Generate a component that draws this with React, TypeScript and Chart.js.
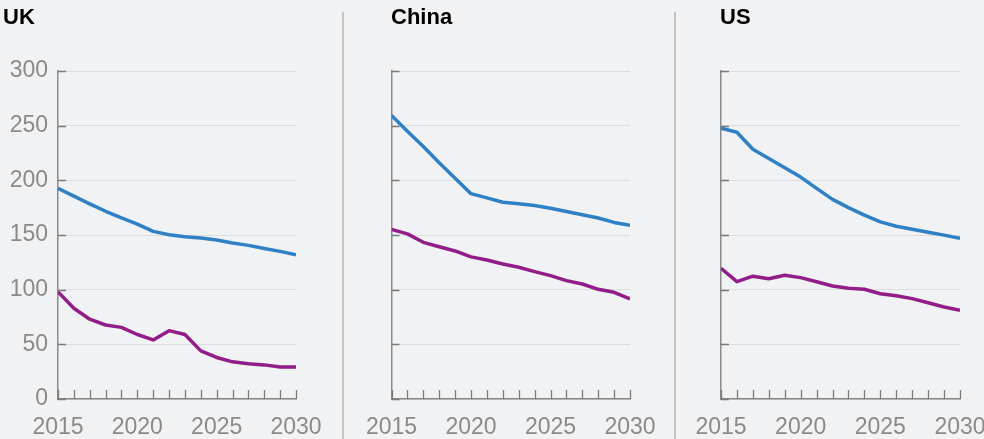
import React, { useEffect, useRef } from "react";
import { Chart, registerables } from "chart.js";

Chart.register(...registerables);

const years = [2015, 2016, 2017, 2018, 2019, 2020, 2021, 2022, 2023, 2024, 2025, 2026, 2027, 2028, 2029, 2030];
const yTickValues = [0, 50, 100, 150, 200, 250, 300];

const ukBlue = [192.6, 185.5, 178.5, 171.7, 165.6, 160, 153.3, 150.3, 148.4, 147.2, 145.4, 142.6, 140.5, 137.7, 135, 131.9];
const ukPurple = [98, 83, 73, 67.7, 65.5, 59, 54, 62.5, 59, 44, 38, 34, 32.2, 31.2, 29.2, 29.2];
const chinaBlue = [259.4, 245, 231, 216, 202, 187.8, 184, 180, 178.6, 177, 174.5, 171.5, 168.5, 165.5, 161.5, 159];
const chinaPurple = [155.2, 151, 143.3, 139.3, 135.4, 130, 127.1, 123.5, 120.5, 116.5, 112.8, 108.3, 105.2, 100.3, 97.6, 91.5];
const usBlue = [247.6, 244, 228.4, 220, 211.6, 203, 192.6, 182.6, 175, 168.2, 162, 158, 155.3, 152.6, 149.9, 146.9];
const usPurple = [119.6, 107.3, 112.3, 110, 113.2, 111, 107.3, 103.4, 101.3, 100.4, 96.3, 94.5, 91.8, 88, 84.2, 81.2];

const BG = "#f1f2f4";
const BLUE = "#2f80c5";
const PURPLE = "#921d88";
const AXIS = "#8a8a8a";
const TICK = "#7a7a7a";
const GRID = "#dcdde0";
const LABEL = "#8a8a8a";
const FONT = "'Liberation Sans', Arial, sans-serif";

type PanelSpec = {
  title: string;
  blue: number[];
  purple: number[];
  left: number;
  width: number;
  axisWidth: number;
  padRight: number;
  showY: boolean;
  titleLeft: number;
};

const panels: PanelSpec[] = [
  { title: "UK", blue: ukBlue, purple: ukPurple, left: 0, width: 345, axisWidth: 58, padRight: 49, showY: true, titleLeft: 3 },
  { title: "China", blue: chinaBlue, purple: chinaPurple, left: 330, width: 345, axisWidth: 61.5, padRight: 45, showY: false, titleLeft: 391 },
  { title: "US", blue: usBlue, purple: usPurple, left: 660, width: 345, axisWidth: 61, padRight: 45, showY: false, titleLeft: 720 },
];

const innerTicks = {
  id: "innerTicks",
  beforeDatasetsDraw(chart: any) {
    const { ctx, chartArea, scales } = chart;
    const xs = scales.x;
    const ys = scales.y;
    ctx.save();
    ctx.strokeStyle = TICK;
    ctx.lineWidth = 1.3;
    ctx.beginPath();
    for (const v of yTickValues) {
      const py = Math.round(ys.getPixelForValue(v)) + 0.5;
      ctx.moveTo(chartArea.left, py);
      ctx.lineTo(chartArea.left + 8, py);
    }
    for (const yr of years) {
      const px = Math.round(xs.getPixelForValue(yr)) + 0.5;
      ctx.moveTo(px, chartArea.bottom);
      ctx.lineTo(px, chartArea.bottom - 9);
    }
    ctx.stroke();
    ctx.restore();
  },
};

function Panel({ spec }: { spec: PanelSpec }) {
  const ref = useRef<HTMLCanvasElement | null>(null);
  useEffect(() => {
    if (!ref.current) return;
    const chart = new Chart(ref.current, {
      type: "line",
      data: {
        datasets: [
          {
            data: years.map((x, i) => ({ x, y: spec.blue[i] })),
            borderColor: BLUE,
            borderWidth: 3.5,
            pointRadius: 0,
            tension: 0,
            borderJoinStyle: "round",
          },
          {
            data: years.map((x, i) => ({ x, y: spec.purple[i] })),
            borderColor: PURPLE,
            borderWidth: 3.5,
            pointRadius: 0,
            tension: 0,
            borderJoinStyle: "round",
          },
        ],
      },
      options: {
        animation: false,
        responsive: false,
        maintainAspectRatio: false,
        layout: { padding: { top: 71, right: spec.padRight, left: 0, bottom: 0 } },
        plugins: { legend: { display: false }, tooltip: { enabled: false }, title: { display: false } },
        scales: {
          x: {
            type: "linear",
            min: 2015,
            max: 2030,
            ticks: {
              stepSize: 5,
              autoSkip: false,
              maxRotation: 0,
              color: LABEL,
              font: { family: FONT, size: 23 },
              padding: 15,
              callback: (v: any) => String(v),
            },
            grid: { display: false, drawTicks: false },
            border: { display: true, color: AXIS, width: 1.5 },
            afterFit: (s: any) => {
              s.height = 40;
            },
          },
          y: {
            min: 0,
            max: 300,
            ticks: {
              display: spec.showY,
              stepSize: 50,
              color: LABEL,
              font: { family: FONT, size: 23 },
              padding: 10,
            },
            grid: { color: GRID, lineWidth: 1, drawTicks: false },
            border: { display: true, color: AXIS, width: 1.5 },
            afterFit: (s: any) => {
              s.width = spec.axisWidth;
            },
          },
        },
      } as any,
      plugins: [innerTicks],
    });
    return () => chart.destroy();
  }, [spec]);
  return (
    <canvas
      ref={ref}
      width={spec.width}
      height={439}
      style={{ position: "absolute", left: spec.left, top: 0, width: spec.width, height: 439 }}
    />
  );
}

export default function App() {
  return (
    <div
      style={{
        position: "absolute",
        left: 0,
        top: 0,
        width: 984,
        height: 439,
        overflow: "hidden",
        background: BG,
        fontFamily: FONT,
      }}
    >
      {panels.map((p) => (
        <Panel key={p.title} spec={p} />
      ))}
      {panels.map((p) => (
        <div
          key={"t" + p.title}
          style={{
            position: "absolute",
            left: p.titleLeft,
            top: 6,
            fontSize: 22,
            lineHeight: "22px",
            fontWeight: "bold",
            color: "#000",
          }}
        >
          {p.title}
        </div>
      ))}
      <div style={{ position: "absolute", left: 342, top: 12, width: 2, height: 427, background: "#c4c4c4" }} />
      <div style={{ position: "absolute", left: 674, top: 12, width: 2, height: 427, background: "#c4c4c4" }} />
    </div>
  );
}
